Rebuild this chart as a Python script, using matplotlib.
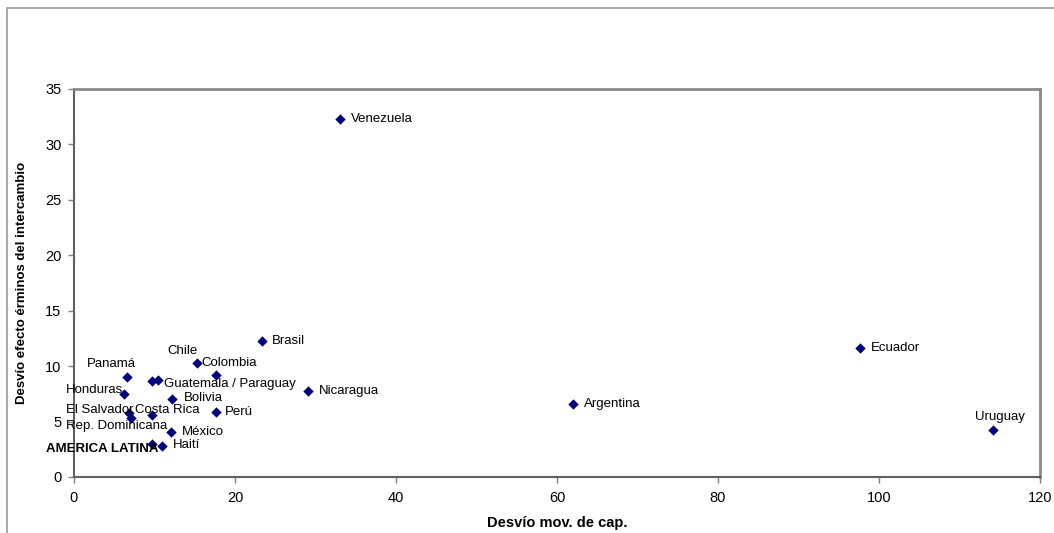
import matplotlib
matplotlib.use("Agg")
import matplotlib.pyplot as plt
from matplotlib.patches import Rectangle

# ---- data ----
countries = ["Venezuela", "Brasil", "Ecuador", "Colombia", "Chile", "Nicaragua",
             "Argentina", "Uruguay", "Panamá", "Honduras", "Guatemala", "Paraguay",
             "Bolivia", "Perú", "El Salvador", "Rep. Dominicana", "Costa Rica",
             "México", "AMERICA LATINA", "Haití"]
desvio_mov_cap = [33.0, 23.3, 97.6, 15.3, 17.7, 29.1,
                  62.0, 114.1, 6.6, 6.2, 9.7, 10.4,
                  12.2, 17.7, 6.8, 7.1, 9.7,
                  12.0, 9.7, 10.9]
desvio_terminos = [32.3, 12.3, 11.6, 10.3, 9.2, 7.8,
                   6.6, 4.2, 9.05, 7.45, 8.7, 8.75,
                   7.05, 5.9, 5.75, 5.3, 5.55,
                   4.1, 3.0, 2.8]
x_ticks = [0, 20, 40, 60, 80, 100, 120]
y_ticks = [0, 5, 10, 15, 20, 25, 30, 35]

# ---- label placement (offset in pixels, horizontal alignment, text) ----
label_style = {
    "Venezuela": (11, 0, "left", "Venezuela"),
    "Brasil": (10, 0, "left", "Brasil"),
    "Ecuador": (11, 0, "left", "Ecuador"),
    "Colombia": (4, 0, "left", "Colombia"),
    "Chile": (-34, 24, "center", "Chile"),
    "Nicaragua": (11, 0, "left", "Nicaragua"),
    "Argentina": (11, 0, "left", "Argentina"),
    "Uruguay": (7, 13, "center", "Uruguay"),
    "Panamá": (-16, 13, "center", "Panamá"),
    "Honduras": (-1, 4, "right", "Honduras"),
    "Guatemala": None,
    "Paraguay": (6, -4, "left", "Guatemala / Paraguay"),
    "Bolivia": (12, 1, "left", "Bolivia"),
    "Perú": (8, 0, "left", "Perú"),
    "El Salvador": (5, 3, "right", "El Salvador"),
    "Rep. Dominicana": (36, -8, "right", "Rep. Dominicana"),
    "Costa Rica": (-17, 5, "left", "Costa Rica"),
    "México": (11, 0, "left", "México"),
    "AMERICA LATINA": (6, -5, "right", "AMERICA LATINA"),
    "Haití": (11, 1, "left", "Haití"),
}

plt.rcParams['font.family'] = ['Liberation Sans', 'DejaVu Sans']

fig = plt.figure(figsize=(10.54, 5.33), dpi=100)
fig.patch.set_facecolor("white")

# outer chart frame
fig.patches.append(Rectangle((7 / 1054, -0.05), 1.2, 1 - 8 / 533 + 0.05,
                             transform=fig.transFigure, fill=False,
                             edgecolor="#9a9a9a", linewidth=1.2))

ax = fig.add_axes([74 / 1054, 1 - 477 / 533, (1040 - 74) / 1054, (477 - 89) / 533])
ax.scatter(desvio_mov_cap, desvio_terminos, marker="D", s=28, color="#000080",
           zorder=3, linewidths=0)

for name, xv, yv in zip(countries, desvio_mov_cap, desvio_terminos):
    st = label_style.get(name)
    if st is None:
        continue
    dx, dy, ha, txt = st
    weight = "bold" if name == "AMERICA LATINA" else "normal"
    ax.annotate(txt, (xv, yv), xytext=(dx, dy), textcoords="offset pixels",
                ha=ha, va="center", fontsize=9.5, fontweight=weight,
                color="black", zorder=4)

ax.set_xlim(0, 120)
ax.set_ylim(0, 35)
ax.set_xticks(x_ticks)
ax.set_yticks(y_ticks)
ax.tick_params(axis="both", direction="out", length=4, width=1, color="#808080",
               labelsize=10.5, labelcolor="black", pad=5)
ax.tick_params(axis="x", pad=6)

for side in ["top", "right"]:
    ax.spines[side].set_color("#8a8a8a")
    ax.spines[side].set_linewidth(2)
for side in ["left", "bottom"]:
    ax.spines[side].set_color("#606060")
    ax.spines[side].set_linewidth(1.5)

ax.set_xlabel("Desvío mov. de cap.", fontsize=10.5, fontweight="bold", labelpad=8)
ax.set_ylabel("Desvío efecto érminos del intercambio", fontsize=9.5,
              fontweight="bold", labelpad=12)

fig.savefig("out.png", dpi=100, facecolor="white")
